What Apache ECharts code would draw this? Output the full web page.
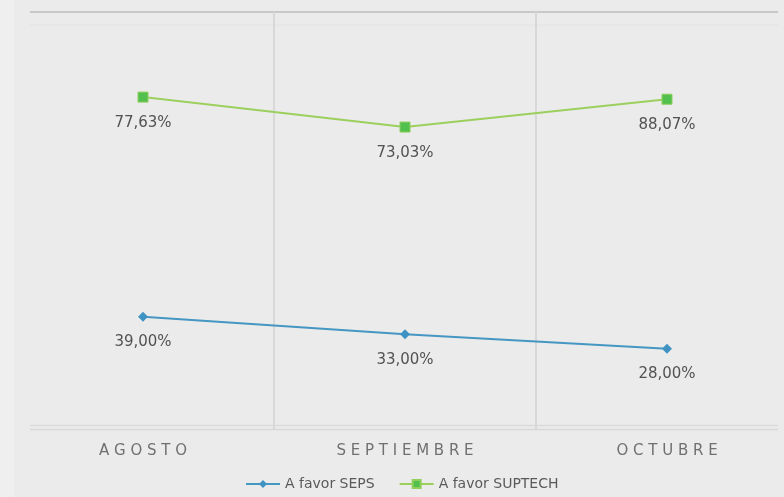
<!DOCTYPE html>
<html>
<head>
<meta charset="utf-8">
<script src="https://cdn.jsdelivr.net/npm/echarts@6/dist/echarts.min.js"></script>
<style>
  html, body { margin: 0; padding: 0; background: #ebebeb; }
  #chart { width: 784px; height: 497px; }
</style>
</head>
<body>
<div id="chart"></div>
<script>
// datos
const meses = ["AGOSTO", "SEPTIEMBRE", "OCTUBRE"];
const seps = [39.00, 33.00, 28.00];
const sepsLabels = ["39,00%", "33,00%", "28,00%"];
// posicion trazada de la serie SUPTECH (eje secundario); etiquetas tal como aparecen
const suptech = [77.63, 73.03, 77.3];
const suptechLabels = ["77,63%", "73,03%", "88,07%"];

const chart = echarts.init(document.getElementById("chart"));

const labelStyle = {
    show: true,
    position: "bottom",
    distance: 13,
    fontFamily: "DejaVu Sans",
    fontSize: 15,
    color: "#525252",
};

chart.setOption({
    backgroundColor: "#ebebeb",
    animation: false,
    grid: { left: 12, width: 786, top: 12, bottom: 67, outerBoundsMode: "none", containLabel: false },
    legend: {
        bottom: 1,
        left: 240,
        itemWidth: 34,
        itemHeight: 10,
        itemGap: 24,
        textStyle: { fontFamily: "DejaVu Sans", fontSize: 14, color: "#5a5a5a" },
        data: ["A favor SEPS", "A favor SUPTECH"],
    },
    xAxis: {
        type: "category",
        data: meses,
        boundaryGap: true,
        axisLine: { show: false },
        axisTick: { show: false },
        axisLabel: {
            margin: 14,
            fontFamily: "DejaVu Sans",
            fontSize: 15,
            color: "#707070",
            formatter: (v) => v.split("").join(" "),
        },
        splitLine: {
            show: true,
            lineStyle: { color: "#d8d8d8", width: 2 },
        },
    },
    yAxis: [
        { type: "value", min: 0, max: 144, show: false, splitLine: { show: false } },
        { type: "value", min: 26.5, max: 90.7, show: false, splitLine: { show: false } },
    ],
    graphic: [
        { type: "rect", shape: { x: 0, y: 0, width: 14, height: 497 }, style: { fill: "#efefef" }, z: 10 },
        { type: "line", shape: { x1: 30, y1: 12, x2: 778, y2: 12 }, style: { stroke: "#c8c8c8", lineWidth: 2 } },
        { type: "line", shape: { x1: 30, y1: 25, x2: 778, y2: 25 }, style: { stroke: "#e2e2e2", lineWidth: 1 } },
        { type: "line", shape: { x1: 30, y1: 425.5, x2: 778, y2: 425.5 }, style: { stroke: "#dadada", lineWidth: 1.5 } },
        { type: "line", shape: { x1: 30, y1: 429.5, x2: 778, y2: 429.5 }, style: { stroke: "#d8d8d8", lineWidth: 1.5 } },
    ],
    series: [
        {
            name: "A favor SEPS",
            type: "line",
            yAxisIndex: 0,
            data: seps,
            symbol: "diamond",
            symbolSize: 10,
            lineStyle: { color: "#4596c3", width: 2 },
            itemStyle: { color: "#3f93c2" },
            label: { ...labelStyle, formatter: (p) => sepsLabels[p.dataIndex] },
        },
        {
            name: "A favor SUPTECH",
            type: "line",
            yAxisIndex: 1,
            data: suptech,
            symbol: "rect",
            symbolSize: 10,
            lineStyle: { color: "#9ccf5e", width: 2 },
            itemStyle: { color: "#52c04e", borderColor: "#8fcf5a", borderWidth: 1 },
            label: { ...labelStyle, formatter: (p) => suptechLabels[p.dataIndex] },
        },
    ],
});
</script>
</body>
</html>
